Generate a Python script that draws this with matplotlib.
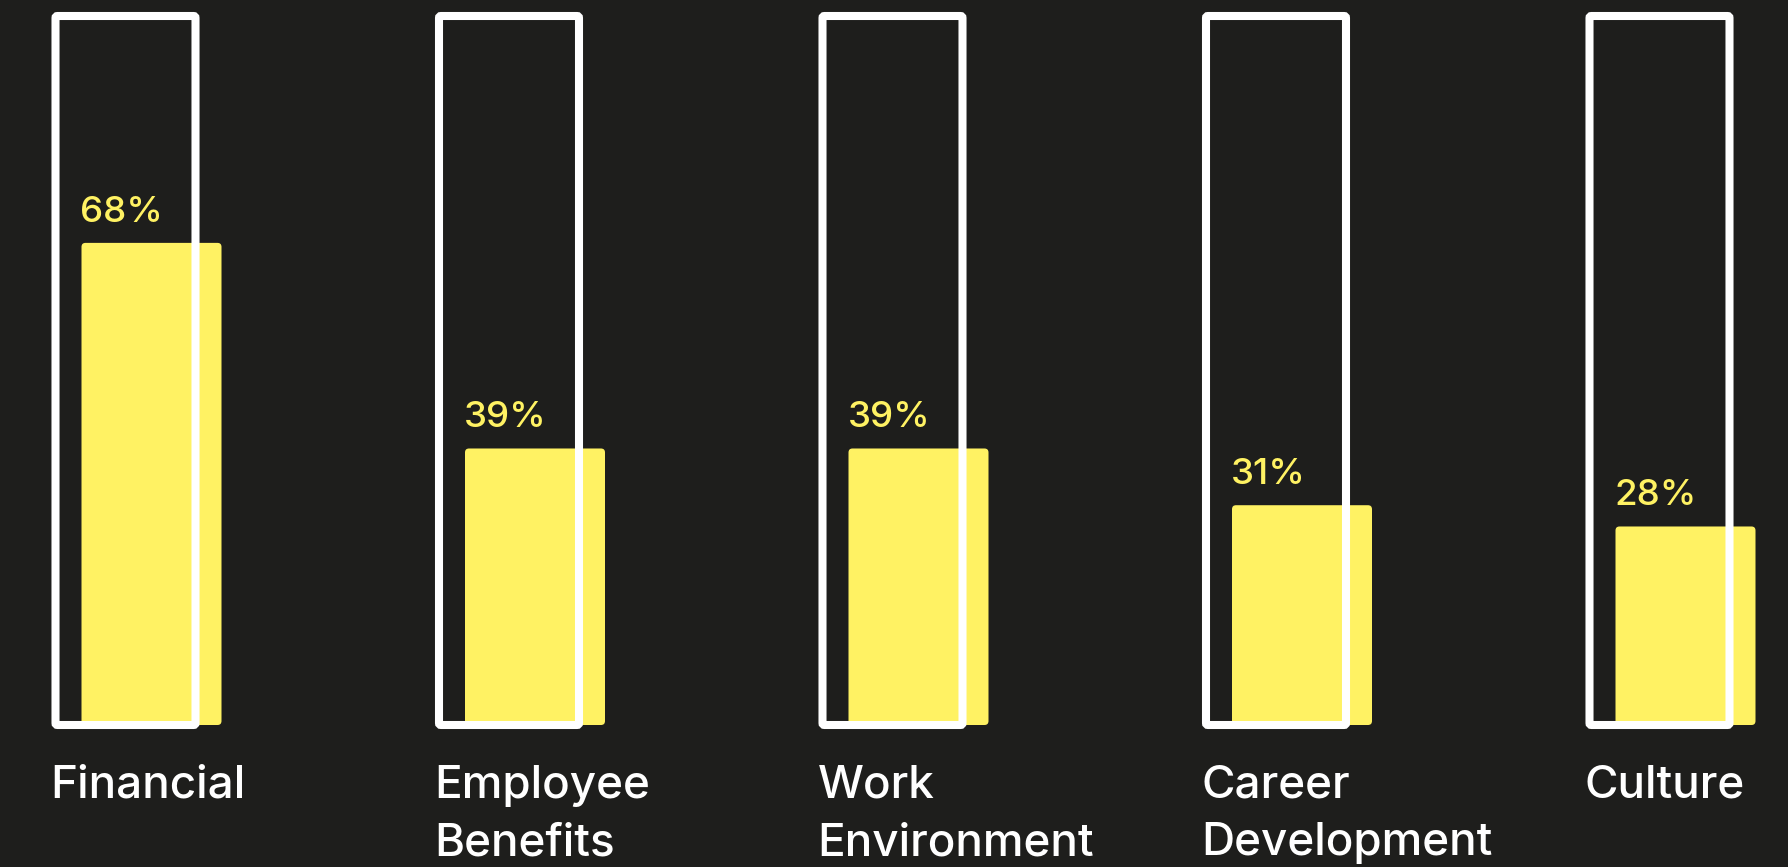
import numpy as np
import matplotlib.pyplot as plt
from matplotlib.patches import FancyBboxPatch

plt.rcParams['font.family'] = ['Inter', 'DejaVu Sans']

categories = ["Financial", "Employee\nBenefits", "Work\nEnvironment",
              "Career\nDevelopment", "Culture"]
shares = [68, 39, 39, 31, 28]
labels = ["68%", "39%", "39%", "31%", "28%"]

bg = "#1e1e1c"
yellow = "#fff263"
white = "#ffffff"

W, H = 1788, 867
fig = plt.figure(figsize=(W / 100, H / 100), dpi=100, facecolor=bg)
ax = fig.add_axes([0, 0, 1, 1], facecolor=bg)

# pixel scale: one category step and one percent point
step_px = 383.5
pct_px = 7.09
x0_px = 55.5
base_px = 725
ax.set_xlim(-x0_px / step_px, (W - x0_px) / step_px)
ax.set_ylim(-(H - base_px) / pct_px, base_px / pct_px)
ax.axis("off")

frame_w = 140 / step_px
shift = 26 / step_px
aspect = step_px / pct_px
rad = 4 / step_px

for i, (val, lab, cat) in enumerate(zip(shares, labels, categories)):
    bar = FancyBboxPatch((i + shift, 0), frame_w, val,
                         boxstyle=f"round,pad=0,rounding_size={rad}",
                         mutation_aspect=aspect, facecolor=yellow,
                         edgecolor="none", zorder=2)
    ax.add_patch(bar)
    frame = FancyBboxPatch((i, 0), frame_w, 100,
                           boxstyle=f"round,pad=0,rounding_size={rad * 0.5}",
                           mutation_aspect=aspect, facecolor="none",
                           edgecolor=white, linewidth=5.8, zorder=3)
    ax.add_patch(frame)
    ax.text(i + shift - 1 / step_px, val + 21 / pct_px, lab, color=yellow,
            fontsize=26.5, fontweight="medium", ha="left", va="baseline",
            zorder=4)
    ax.text(i - 5 / step_px, -40 / pct_px, cat, color=white, fontsize=33,
            fontweight="medium", ha="left", va="top", linespacing=1.46,
            zorder=4)

fig.savefig("out.png", dpi=100, facecolor=bg)
